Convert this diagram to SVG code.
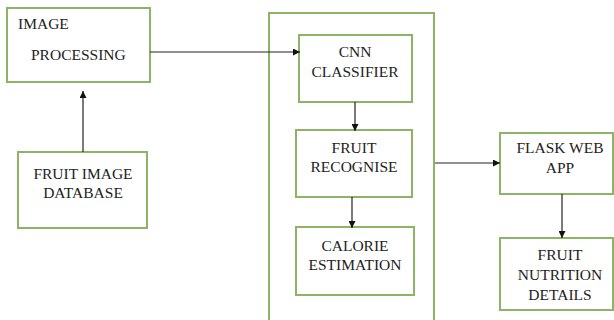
<svg xmlns="http://www.w3.org/2000/svg" width="614" height="320" viewBox="0 0 614 320">
<defs>
<style>
.box{fill:#fff;stroke:#8cb366;stroke-width:2}
.t{font-family:'Times New Roman','Liberation Serif','DejaVu Serif',serif;font-size:15.5px;fill:#222}
.c{text-anchor:middle}
.ln{stroke:#222;stroke-width:1.2;fill:none}
</style>
<marker id="ah" viewBox="0 0 10 10" refX="10" refY="5" markerWidth="7" markerHeight="7" markerUnits="userSpaceOnUse" orient="auto"><path d="M0,0L10,5L0,10z" fill="#111"/></marker>
</defs>
<rect width="614" height="320" fill="#fff"/>
<g id="container"><rect class="box" x="269" y="13" width="165" height="320"/></g>
<g id="image-processing"><rect class="box" x="7" y="8" width="143" height="74"/>
<text class="t" x="18" y="29">IMAGE</text><text class="t" x="31" y="60">PROCESSING</text></g>
<g id="fruit-image-database"><rect class="box" x="18" y="152" width="129" height="76"/>
<text class="t c" x="83" y="179">FRUIT IMAGE</text><text class="t c" x="83" y="198">DATABASE</text></g>
<g id="cnn-classifier"><rect class="box" x="299" y="35" width="113" height="67"/>
<text class="t c" x="355" y="57">CNN</text><text class="t c" x="355" y="77">CLASSIFIER</text></g>
<g id="fruit-recognise"><rect class="box" x="296" y="130" width="116" height="67"/>
<text class="t c" x="354" y="153">FRUIT</text><text class="t c" x="354" y="172">RECOGNISE</text></g>
<g id="calorie-estimation"><rect class="box" x="296" y="227" width="118" height="68"/>
<text class="t c" x="355" y="251">CALORIE</text><text class="t c" x="355" y="270">ESTIMATION</text></g>
<g id="flask-web-app"><rect class="box" x="500" y="133" width="113" height="61"/>
<text class="t c" x="560" y="153">FLASK WEB</text><text class="t c" x="560" y="173">APP</text></g>
<g id="fruit-nutrition-details"><rect class="box" x="500" y="238" width="113" height="72"/>
<text class="t c" x="560" y="260">FRUIT</text><text class="t c" x="560" y="280">NUTRITION</text><text class="t c" x="560" y="300">DETAILS</text></g>
<g id="connectors">
<path class="ln" d="M150,52H300" marker-end="url(#ah)"/>
<path class="ln" d="M83,152V91" marker-end="url(#ah)"/>
<path class="ln" d="M355,102V131" marker-end="url(#ah)"/>
<path class="ln" d="M352,197V228" marker-end="url(#ah)"/>
<path class="ln" d="M435,163H500" marker-end="url(#ah)"/>
<path class="ln" d="M562,194V238" marker-end="url(#ah)"/>
</g>
</svg>
